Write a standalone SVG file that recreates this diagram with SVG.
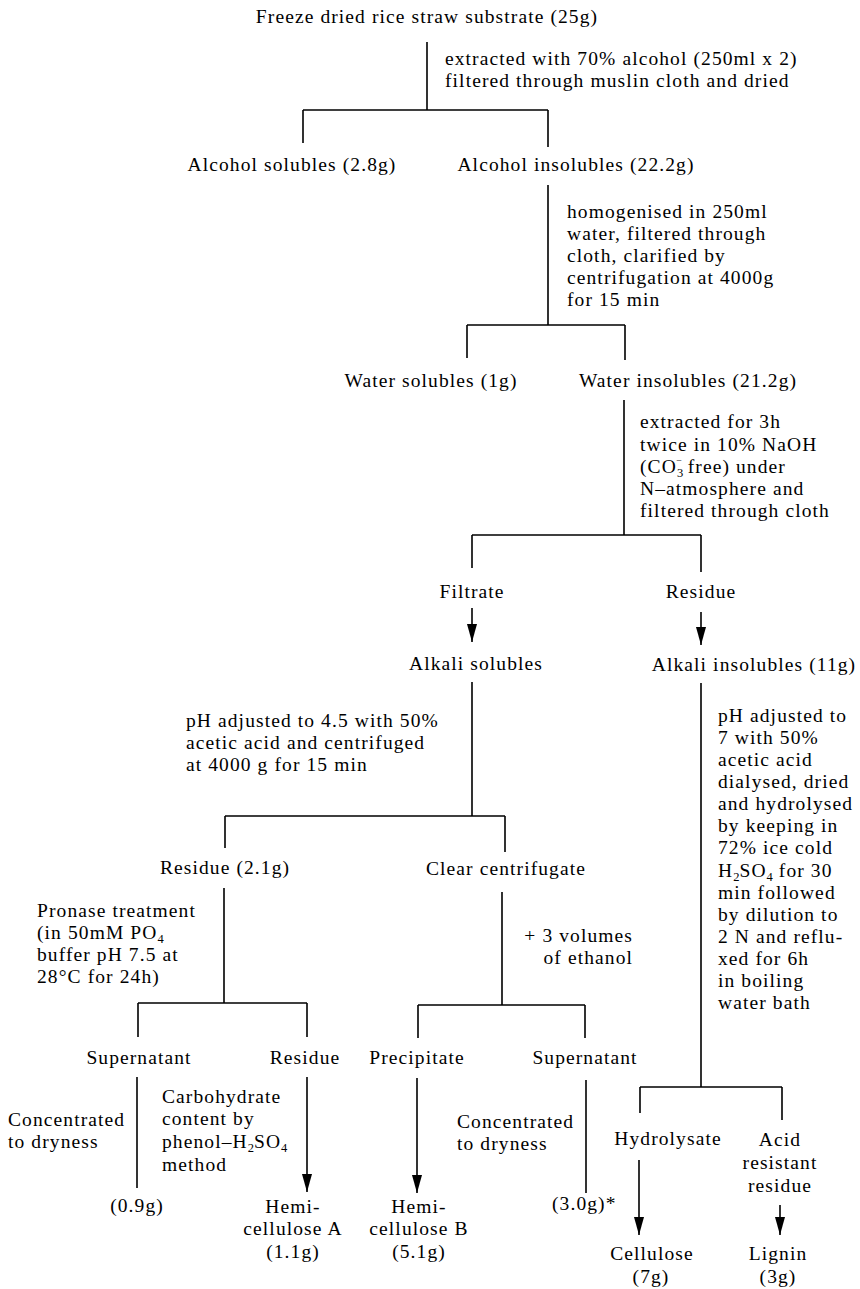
<svg xmlns="http://www.w3.org/2000/svg" width="860" height="1289" viewBox="0 0 860 1289">
<style>
.t{font-family:"Liberation Serif","Times New Roman",serif;font-size:19.5px;letter-spacing:1.1px;fill:#000}
.m{text-anchor:middle}
.e{text-anchor:end}
.c{stroke:#000;stroke-width:1.6;fill:none}
.s{font-size:12.5px;letter-spacing:0}
.u{font-size:10px;letter-spacing:0}
</style>
<defs>
<marker id="ah" viewBox="0 0 18 10" refX="18" refY="5" markerWidth="18" markerHeight="10" markerUnits="userSpaceOnUse" orient="auto">
<path d="M0,0 L18,5 L0,10 Z" fill="#000"/>
</marker>
</defs>
<rect width="860" height="1289" fill="#fff"/>
<g id="connectors" class="c">
<path d="M427,42 V110 M303,110 H548 M303,110 V143 M548,110 V147"/>
<path d="M548,185 V325 M467,325 H625 M467,325 V358 M625,325 V360"/>
<path d="M624,400 V535 M472,535 H701 M472,535 V568 M701,535 V572"/>
<path d="M472,608 V642" marker-end="url(#ah)"/>
<path d="M701,612 V645" marker-end="url(#ah)"/>
<path d="M472,682 V816 M225,816 H505 M225,816 V848 M505,816 V852"/>
<path d="M701,683 V1087 M640,1087 H782 M640,1087 V1113 M782,1087 V1120"/>
<path d="M224,888 V1003 M138,1003 H307 M138,1003 V1037 M307,1003 V1037"/>
<path d="M502,892 V1005 M418,1005 H585 M418,1005 V1038 M585,1005 V1038"/>
<path d="M137,1077 V1188"/>
<path d="M307,1077 V1192" marker-end="url(#ah)"/>
<path d="M417,1078 V1193" marker-end="url(#ah)"/>
<path d="M586,1080 V1193"/>
<path d="M639,1160 V1235" marker-end="url(#ah)"/>
<path d="M780,1205 V1235" marker-end="url(#ah)"/>
</g>
<g id="n-start"><text class="t m" x="427" y="23">Freeze dried rice straw substrate (25g)</text></g>
<g id="l-alcohol"><text class="t" x="445" y="65">extracted with 70% alcohol (250ml x 2)</text><text class="t" x="445" y="87">filtered through  muslin cloth and dried</text></g>
<g id="n-alc-sol"><text class="t m" x="292" y="171">Alcohol solubles (2.8g)</text></g>
<g id="n-alc-insol"><text class="t m" x="576" y="171">Alcohol insolubles (22.2g)</text></g>
<g id="l-water">
<text class="t" x="567" y="218">homogenised in 250ml</text>
<text class="t" x="567" y="240">water, filtered through</text>
<text class="t" x="567" y="262">cloth, clarified by</text>
<text class="t" x="567" y="284">centrifugation at 4000g</text>
<text class="t" x="567" y="306">for 15 min</text>
</g>
<g id="n-water-sol"><text class="t m" x="431" y="387">Water solubles (1g)</text></g>
<g id="n-water-insol"><text class="t m" x="688" y="387">Water insolubles (21.2g)</text></g>
<g id="l-naoh">
<text class="t" x="640" y="428">extracted for 3h</text>
<text class="t" x="640" y="451">twice in 10% NaOH</text>
<text class="t" x="640" y="473">(CO<tspan class="s" baseline-shift="-4">3</tspan><tspan class="u" dx="-7" baseline-shift="9">−</tspan> free) under</text>
<text class="t" x="640" y="495">N–atmosphere and</text>
<text class="t" x="640" y="517">filtered through cloth</text>
</g>
<g id="n-filtrate"><text class="t m" x="472" y="598">Filtrate</text></g>
<g id="n-residue1"><text class="t m" x="701" y="598">Residue</text></g>
<g id="n-alk-sol"><text class="t m" x="476" y="670">Alkali solubles</text></g>
<g id="n-alk-insol"><text class="t m" x="754" y="671">Alkali insolubles (11g)</text></g>
<g id="l-ph45">
<text class="t" x="186" y="727">pH adjusted to 4.5 with 50%</text>
<text class="t" x="186" y="749">acetic acid and centrifuged</text>
<text class="t" x="186" y="771">at 4000 g for 15 min</text>
</g>
<g id="l-ph7">
<text class="t" x="718" y="722">pH adjusted to</text>
<text class="t" x="718" y="744">7 with 50%</text>
<text class="t" x="718" y="766">acetic acid</text>
<text class="t" x="718" y="788">dialysed, dried</text>
<text class="t" x="718" y="810">and hydrolysed</text>
<text class="t" x="718" y="832">by keeping in</text>
<text class="t" x="718" y="854">72% ice cold</text>
<text class="t" x="718" y="877">H<tspan class="s" baseline-shift="-4">2</tspan>SO<tspan class="s" baseline-shift="-4">4</tspan> for 30</text>
<text class="t" x="718" y="899">min followed</text>
<text class="t" x="718" y="921">by dilution to</text>
<text class="t" x="718" y="943">2 N  and reflu-</text>
<text class="t" x="718" y="965">xed for 6h</text>
<text class="t" x="718" y="987">in boiling</text>
<text class="t" x="718" y="1009">water bath</text>
</g>
<g id="n-residue21"><text class="t m" x="225" y="874">Residue (2.1g)</text></g>
<g id="n-clear"><text class="t m" x="506" y="875">Clear centrifugate</text></g>
<g id="l-pronase">
<text class="t" x="37" y="917">Pronase treatment</text>
<text class="t" x="37" y="939">(in 50mM PO<tspan class="s" baseline-shift="-4">4</tspan></text>
<text class="t" x="37" y="961">buffer pH 7.5 at</text>
<text class="t" x="37" y="983">28°C for 24h)</text>
</g>
<g id="l-ethanol">
<text class="t e" x="633" y="942">+ 3 volumes</text>
<text class="t e" x="633" y="964">of ethanol</text>
</g>
<g id="n-super1"><text class="t m" x="139" y="1064">Supernatant</text></g>
<g id="n-residue2"><text class="t m" x="305" y="1064">Residue</text></g>
<g id="n-precip"><text class="t m" x="417" y="1064">Precipitate</text></g>
<g id="n-super2"><text class="t m" x="585" y="1064">Supernatant</text></g>
<g id="l-conc1"><text class="t" x="8" y="1126">Concentrated</text><text class="t" x="8" y="1148">to dryness</text></g>
<g id="l-carb">
<text class="t" x="162" y="1103">Carbohydrate</text>
<text class="t" x="162" y="1125">content by</text>
<text class="t" x="162" y="1148">phenol–H<tspan class="s" baseline-shift="-4">2</tspan>SO<tspan class="s" baseline-shift="-4">4</tspan></text>
<text class="t" x="162" y="1171">method</text>
</g>
<g id="l-conc2"><text class="t" x="457" y="1128">Concentrated</text><text class="t" x="457" y="1150">to dryness</text></g>
<g id="n-hydro"><text class="t m" x="668" y="1145">Hydrolysate</text></g>
<g id="n-acid"><text class="t m" x="780" y="1146">Acid</text><text class="t m" x="780" y="1169">resistant</text><text class="t m" x="780" y="1192">residue</text></g>
<g id="n-09"><text class="t m" x="137" y="1212">(0.9g)</text></g>
<g id="n-hemiA"><text class="t m" x="293" y="1213">Hemi-</text><text class="t m" x="293" y="1235">cellulose A</text><text class="t m" x="293" y="1258">(1.1g)</text></g>
<g id="n-hemiB"><text class="t m" x="419" y="1213">Hemi-</text><text class="t m" x="419" y="1235">cellulose B</text><text class="t m" x="419" y="1258">(5.1g)</text></g>
<g id="n-30"><text class="t" x="552" y="1210">(3.0g)*</text></g>
<g id="n-cellulose"><text class="t m" x="652" y="1260">Cellulose</text><text class="t m" x="651" y="1283">(7g)</text></g>
<g id="n-lignin"><text class="t m" x="778" y="1260">Lignin</text><text class="t m" x="778" y="1283">(3g)</text></g>
</svg>
